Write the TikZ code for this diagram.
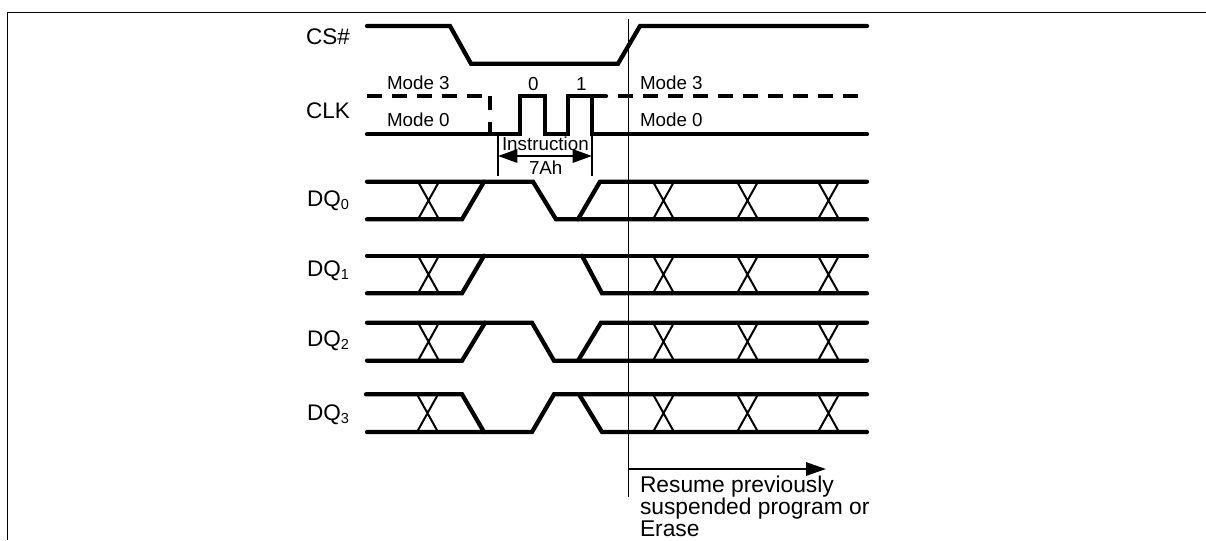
\documentclass[tikz,border=0pt]{standalone}
\usepackage{fontspec}
\setmainfont{Liberation Sans}
\usetikzlibrary{arrows.meta}
\tikzset{
  x=0.75pt,y=-0.75pt,
  frameline/.style={line width=1pt,black},
  sig/.style={line width=3.2pt,black,line cap=round,line join=miter},
  dashsig/.style={line width=3.2pt,black,dash pattern=on 11.25pt off 7.5pt},
  xing/.style={line width=1.5pt,black},
  hair/.style={line width=1pt,black},
  bigarrow/.style={line width=1.5pt,black,-{Triangle[length=15pt,width=10pt]}},
  bigboth/.style={line width=1.5pt,black,{Triangle[length=14.5pt,width=10pt]}-{Triangle[length=14.5pt,width=10pt]}},
  lab/.style={anchor=base west,inner sep=0pt,outer sep=0pt,font=\fontsize{16.9pt}{20pt}\selectfont},
  small/.style={anchor=base west,inner sep=0pt,outer sep=0pt,font=\fontsize{14.1pt}{17pt}\selectfont},
  big/.style={anchor=base west,inner sep=0pt,outer sep=0pt,font=\fontsize{17.1pt}{20pt}\selectfont},
}
\newcommand{\xmark}[3]{\draw[xing] (#1,#2) -- ({#1+21},#3) (#1,#3) -- ({#1+21},#2);}
\newcommand{\dqsub}[1]{DQ{\fontsize{10.9pt}{12pt}\selectfont\raisebox{-0.22em}{#1}}}
\begin{document}
\begin{tikzpicture}
\useasboundingbox (0,0) rectangle (1206,540);
\fill[white] (0,0) rectangle (1206,540);
% frame
\draw[frameline] (7.5,540) -- (7.5,12.5) -- (1206,12.5);
% CS#
\draw[sig] (367,26) -- (450,26) -- (471,63.7) -- (618,63.7) -- (640,26) -- (867,26);
% CLK
\draw[dashsig] (367,96.3) -- (482,96.3);
\draw[sig,line cap=butt] (490,96.3) -- (490,110) (490,122) -- (490,134.3);
\draw[sig] (367,134.3) -- (520,134.3) -- (520,96.3) -- (545,96.3) -- (545,134.3) -- (568,134.3) -- (568,96.3) -- (606,96.3);
\draw[sig] (592,96.3) -- (592,134.3) -- (867,134.3);
\draw[dashsig] (618,96.3) -- (858,96.3);
% instruction markers
\coordinate (il) at (498,134.3);
\coordinate (ir) at (592,134.3);
\draw[hair] (il) -- (498,175.7);
\draw[hair] (ir) -- (592,175.7);
\draw[bigboth] (498,156) -- (592,156);
% DQ0
\draw[sig] (367,181.7) -- (533,181.7) -- (556,219.3) -- (867,219.3);
\draw[sig] (367,219.3) -- (462,219.3) -- (484,181.7);
\draw[sig] (578,219.3) -- (600,181.7) -- (867,181.7);
\xmark{418}{181.7}{219.3}
\xmark{653}{181.7}{219.3}
\xmark{737}{181.7}{219.3}
\xmark{818}{181.7}{219.3}
% DQ1
\draw[sig] (367,255.7) -- (867,255.7);
\draw[sig] (367,293.3) -- (462,293.3) -- (484,255.7);
\draw[sig] (582,255.7) -- (602,293.3) -- (867,293.3);
\xmark{418}{255.7}{293.3}
\xmark{653}{255.7}{293.3}
\xmark{737}{255.7}{293.3}
\xmark{818}{255.7}{293.3}
% DQ2
\draw[sig] (367,322.7) -- (532,322.7) -- (554,360.7) -- (867,360.7);
\draw[sig] (367,360.7) -- (462,360.7) -- (485,322.7);
\draw[sig] (578,360.7) -- (601,322.7) -- (867,322.7);
\xmark{418}{322.7}{360.7}
\xmark{653}{322.7}{360.7}
\xmark{737}{322.7}{360.7}
\xmark{818}{322.7}{360.7}
% DQ3
\draw[sig] (366,394.3) -- (462,394.3) -- (484,432);
\draw[sig] (367,432) -- (532,432) -- (554,394.3) -- (867,394.3);
\draw[sig] (579,394.3) -- (602,432) -- (867,432);
\xmark{417}{394.3}{432}
\xmark{653}{394.3}{432}
\xmark{737}{394.3}{432}
\xmark{818}{394.3}{432}
% resume marker
\coordinate (rt) at (628.7,18.7);
\coordinate (rb) at (628.7,496.7);
\coordinate (ra) at (628.7,469);
\coordinate (re) at (826,469);
\draw[hair] (rt) -- (rb);
\draw[bigarrow] (ra) -- (re);
% labels
\node[lab] (cs) at (306,44.3) {CS\#};
\node[lab] (clk) at (306,118) {CLK};
\node[lab] (dq0) at (307,206.7) {\dqsub{0}};
\node[lab] (dq1) at (307,276.7) {\dqsub{1}};
\node[lab] (dq2) at (307,346) {\dqsub{2}};
\node[lab] (dq3) at (307,420) {\dqsub{3}};
\node[small] (m3l) at (387,89) {Mode 3};
\node[small] (m0l) at (387,126.7) {Mode 0};
\node[small] (m3r) at (640,89) {Mode 3};
\node[small] (m0r) at (640,126.7) {Mode 0};
\node[small] (b0) at (528,90) {0};
\node[small] (b1) at (576,90) {1};
\node[small] (ins) at (502,150) {Instruction};
\node[small] (hex) at (529,174) {7Ah};
\node[big] (res1) at (640,492) {Resume previously};
\node[big] (res2) at (640,514) {suspended program or};
\node[big] (res3) at (640,536) {Erase};
\end{tikzpicture}
\end{document}
